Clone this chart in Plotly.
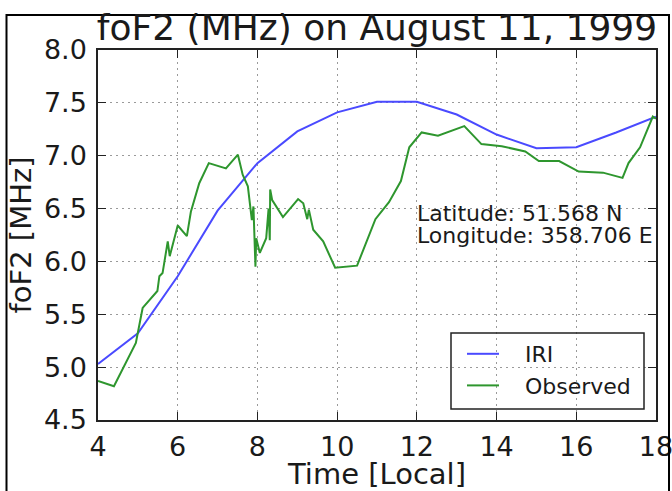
import plotly.graph_objects as go

iri_time = [4, 5, 6, 7, 8, 9, 10, 11, 12, 13, 14, 15, 16, 17, 18]
iri_fof2 = [5.03, 5.32, 5.86, 6.48, 6.93, 7.23, 7.41, 7.51, 7.51, 7.39, 7.20, 7.07, 7.08, 7.22, 7.37]

obs_time = [4.0, 4.40, 4.95, 5.12, 5.49, 5.54, 5.62, 5.75, 5.80, 6.0, 6.23, 6.33, 6.54, 6.78,
            7.21, 7.51, 7.63, 7.76, 7.86, 7.90, 7.95, 7.97, 8.06, 8.22, 8.28, 8.31, 8.32,
            8.37, 8.64, 9.02, 9.15, 9.25, 9.29, 9.40, 9.65, 9.95, 10.50, 10.96, 11.30,
            11.60, 11.81, 12.12, 12.53, 13.19, 13.62, 14.13, 14.72, 15.06, 15.57, 16.06,
            16.67, 17.16, 17.31, 17.60, 17.92, 18.0]
obs_fof2 = [4.87, 4.82, 5.23, 5.56, 5.72, 5.86, 5.89, 6.19, 6.05, 6.34, 6.24, 6.47, 6.74, 6.93,
            6.88, 7.01, 6.82, 6.71, 6.39, 6.52, 5.95, 6.22, 6.08, 6.22, 6.50, 6.20, 6.68,
            6.58, 6.42, 6.59, 6.55, 6.40, 6.49, 6.30, 6.19, 5.94, 5.96, 6.40, 6.56,
            6.76, 7.08, 7.22, 7.19, 7.28, 7.11, 7.09, 7.04, 6.95, 6.95, 6.85,
            6.84, 6.79, 6.93, 7.08, 7.37, 7.35]

x_ticks = [4, 6, 8, 10, 12, 14, 16, 18]
y_ticks = [4.5, 5.0, 5.5, 6.0, 6.5, 7.0, 7.5, 8.0]

title_text = "foF2 (MHz) on August 11, 1999"
x_label = "Time [Local]"
y_label = "foF2 [MHz]"
info_lines = ["Latitude: 51.568 N", "Longitude: 358.706 E"]
info_pos = [(12.0, 6.45), (12.0, 6.25)]

FONT = "DejaVu Sans"
TXT = "#1a1a1a"
NB = "\u00a0"

W, H = 672, 491
ML, MR, MT, MB = 98, 16, 50, 71
PW, PH = W - ML - MR, H - MT - MB


def px_x(p):
    return (p - ML) / PW


def px_y(p):
    return (H - MB - p) / PH


fig = go.Figure()
fig.add_trace(go.Scatter(x=iri_time, y=iri_fof2, mode="lines", name=NB * 3 + "IRI",
                         line=dict(color="#4a4aff", width=2)))
fig.add_trace(go.Scatter(x=obs_time, y=obs_fof2, mode="lines", name=NB * 3 + "Observed",
                         line=dict(color="#2e962e", width=2)))

axis_common = dict(showline=True, linecolor="#222", linewidth=1.5, mirror="ticks",
                   ticks="inside", ticklen=8, tickcolor="#222", tickwidth=1,
                   showgrid=True, gridcolor="#9a9a9a", griddash="2px,4px", gridwidth=1,
                   zeroline=False, automargin=False, ticklabeloverflow="allow",
                   tickfont=dict(family=FONT, size=27, color=TXT))

fig.update_xaxes(range=[4, 18], tickvals=x_ticks, ticktext=[str(v) for v in x_ticks],
                 ticklabelstandoff=2,
                 title=dict(text=x_label, font=dict(family=FONT, size=29, color=TXT), standoff=8),
                 **axis_common)
fig.update_yaxes(range=[4.5, 8.0], tickvals=y_ticks, ticktext=[f"{v:.1f}" for v in y_ticks],
                 ticklabelstandoff=4,
                 title=dict(text=y_label, font=dict(family=FONT, size=29, color=TXT), standoff=4),
                 **axis_common)

for (tx, ty), line in zip(info_pos, info_lines):
    fig.add_annotation(x=tx, y=ty, xref="x", yref="y", xanchor="left", yanchor="middle",
                       text=line, showarrow=False, xshift=-2,
                       font=dict(family=FONT, size=22, color=TXT))

# outer frame of the picture
fig.add_shape(type="rect", xref="paper", yref="paper", x0=px_x(6.5), x1=px_x(669),
              y0=px_y(520), y1=px_y(15),
              line=dict(color="black", width=2), fillcolor="rgba(0,0,0,0)", layer="above")
# legend frame
fig.add_shape(type="rect", xref="paper", yref="paper", x0=px_x(451), x1=px_x(644),
              y0=px_y(409), y1=px_y(333),
              line=dict(color="#222", width=1.5), fillcolor="rgba(0,0,0,0)", layer="above")

fig.update_layout(
    width=W, height=H,
    margin=dict(l=ML, r=MR, t=MT, b=MB),
    paper_bgcolor="white", plot_bgcolor="white",
    title=dict(text=title_text, x=0.5, xref="paper", xanchor="center", y=0.945, yanchor="middle",
               font=dict(family=FONT, size=36, color=TXT), automargin=False),
    legend=dict(x=px_x(462), y=px_y(333), xanchor="left", yanchor="top",
                borderwidth=0, bgcolor="rgba(0,0,0,0)", font=dict(family=FONT, size=22, color=TXT),
                itemwidth=32),
    showlegend=True,
)

fig.write_html("out.html", config={"displayModeBar": False},
               post_script="document.body.style.margin='0';document.body.style.overflow='hidden';")
